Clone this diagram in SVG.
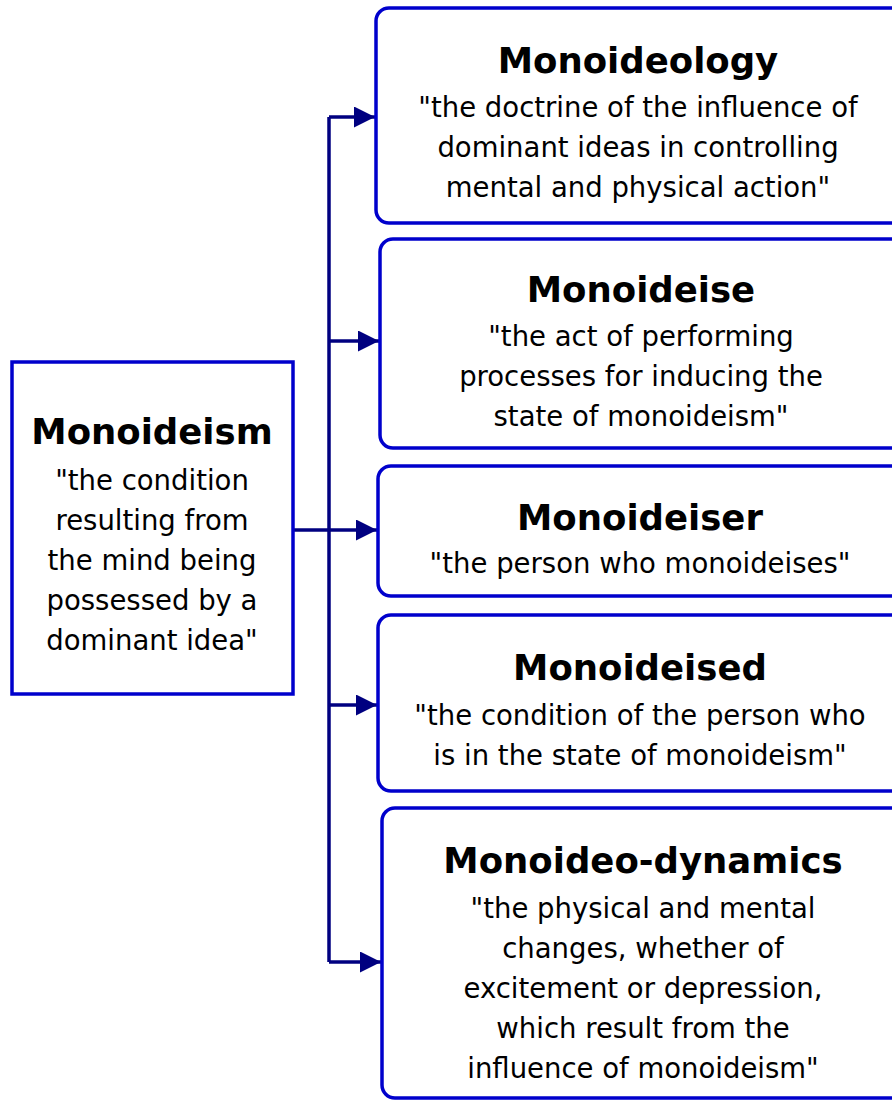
<svg xmlns="http://www.w3.org/2000/svg" width="892" height="1101" viewBox="0 0 892 1101">
<defs>
<marker id="arr" markerWidth="22" markerHeight="22" refX="21" refY="10.5" orient="auto" markerUnits="userSpaceOnUse">
<path d="M0,0 L21,10.5 L0,21 Z" fill="#000080"/>
</marker>
<style>
.box{fill:#fff;stroke:#0000CC;stroke-width:3.5}
.conn{fill:none;stroke:#000080;stroke-width:3.5}
.t{font-family:"DejaVu Sans",sans-serif;font-weight:bold;font-size:35.5px;fill:#000;text-anchor:middle}
.b{font-family:"DejaVu Sans",sans-serif;font-size:27.5px;fill:#000;text-anchor:middle}
</style>
</defs>
<rect width="892" height="1101" fill="#fff"/>
<g id="connectors">
<line class="conn" x1="329" y1="117" x2="329" y2="962"/>
<line class="conn" x1="293" y1="530" x2="329" y2="530"/>
<line class="conn" x1="329" y1="117" x2="375" y2="117" marker-end="url(#arr)"/>
<line class="conn" x1="329" y1="341" x2="379" y2="341" marker-end="url(#arr)"/>
<line class="conn" x1="329" y1="530" x2="377" y2="530" marker-end="url(#arr)"/>
<line class="conn" x1="329" y1="705" x2="377" y2="705" marker-end="url(#arr)"/>
<line class="conn" x1="329" y1="962" x2="381" y2="962" marker-end="url(#arr)"/>
</g>
<g id="monoideism">
<rect class="box" x="12" y="362" width="281" height="332"/>
<text class="t" x="152" y="444">Monoideism</text>
<text class="b" x="152" y="490">"the condition</text>
<text class="b" x="152" y="530">resulting from</text>
<text class="b" x="152" y="570">the mind being</text>
<text class="b" x="152" y="610">possessed by a</text>
<text class="b" x="152" y="650">dominant idea"</text>
</g>
<g id="monoideology">
<rect class="box" x="376" y="8" width="560" height="215" rx="13"/>
<text class="t" x="638" y="73">Monoideology</text>
<text class="b" x="638" y="117">"the doctrine of the influence of</text>
<text class="b" x="638" y="157">dominant ideas in controlling</text>
<text class="b" x="638" y="197">mental and physical action"</text>
</g>
<g id="monoideise">
<rect class="box" x="380" y="239" width="560" height="209" rx="13"/>
<text class="t" x="641" y="302">Monoideise</text>
<text class="b" x="641" y="346">"the act of performing</text>
<text class="b" x="641" y="386">processes for inducing the</text>
<text class="b" x="641" y="426">state of monoideism"</text>
</g>
<g id="monoideiser">
<rect class="box" x="378" y="466" width="560" height="130" rx="13"/>
<text class="t" x="640" y="530">Monoideiser</text>
<text class="b" x="640" y="573">"the person who monoideises"</text>
</g>
<g id="monoideised">
<rect class="box" x="378" y="615" width="560" height="176" rx="13"/>
<text class="t" x="640" y="680">Monoideised</text>
<text class="b" x="640" y="725">"the condition of the person who</text>
<text class="b" x="640" y="765">is in the state of monoideism"</text>
</g>
<g id="monoideo-dynamics">
<rect class="box" x="382" y="808" width="560" height="290" rx="13"/>
<text class="t" x="643" y="873">Monoideo-dynamics</text>
<text class="b" x="643" y="918">"the physical and mental</text>
<text class="b" x="643" y="958">changes, whether of</text>
<text class="b" x="643" y="998">excitement or depression,</text>
<text class="b" x="643" y="1038">which result from the</text>
<text class="b" x="643" y="1078">influence of monoideism"</text>
</g>
</svg>
